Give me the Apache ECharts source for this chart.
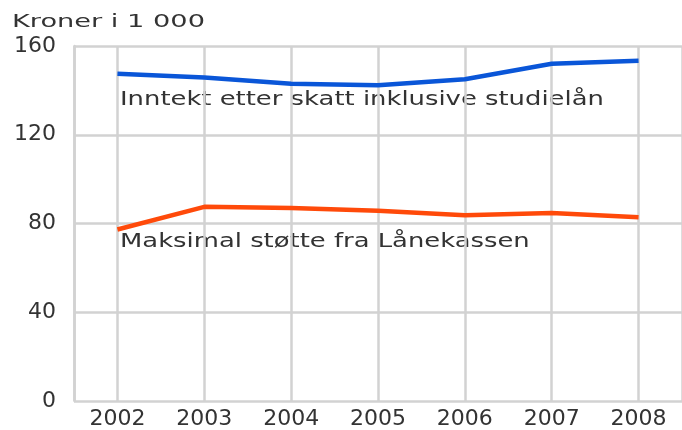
<!DOCTYPE html>
<html><head><meta charset="utf-8">
<script src="https://cdn.jsdelivr.net/npm/echarts@6/dist/echarts.min.js"></script>
<style>html,body{margin:0;padding:0;background:#fff}#c{width:682px;height:430px}</style>
</head><body><div id="c"></div>
<script>
const years = [2002, 2003, 2004, 2005, 2006, 2007, 2008];
const inntekt = [147.5, 145.8, 143, 142.3, 145, 152, 153.3];
const stotte = [77.3, 87.5, 87, 85.8, 83.7, 84.7, 82.8];
const yTicks = [0, 40, 80, 120, 160];
const unitLabel = 'Kroner i 1 000';
const name1 = 'Inntekt etter skatt inklusive studielån';
const name2 = 'Maksimal støtte fra Lånekassen';

const font = 'DejaVu Sans';
const chart = echarts.init(document.getElementById('c'));
chart.setOption({
  animation: false,
  grid: {left: 74, right: -5, top: 46, bottom: 26, containLabel: false},
  xAxis: {
    type: 'value', min: 2001.5, max: 2008.5, splitNumber: 7,
    axisLine: {show: false}, axisTick: {show: false},
    axisLabel: {color: '#333', fontFamily: font, fontSize: 22, margin: 7,
      showMinLabel: false, showMaxLabel: false,
      formatter: v => (years.indexOf(v) >= 0 ? String(v) : '')},
    splitLine: {show: true, lineStyle: {color: '#d2d2d2', width: 2.5}}
  },
  yAxis: {
    type: 'value', min: yTicks[0], max: yTicks[yTicks.length - 1], interval: 40,
    axisLine: {show: true, lineStyle: {color: '#d2d2d2', width: 2.5}}, axisTick: {show: false},
    axisLabel: {color: '#333', fontFamily: font, fontSize: 22, margin: 18},
    splitLine: {show: true, lineStyle: {color: '#d2d2d2', width: 2.5}}
  },
  graphic: [
    {type: 'group', x: 12, y: 14, scaleX: 1.6, children: [
      {type: 'text', style: {text: unitLabel, fill: '#333', font: '17px ' + font, verticalAlign: 'top'}}]},
    {type: 'group', x: 120, y: 91, scaleX: 1.36, children: [
      {type: 'text', style: {text: name1, fill: '#333', font: '19px ' + font, verticalAlign: 'top'}}]},
    {type: 'group', x: 120, y: 233, scaleX: 1.36, children: [
      {type: 'text', style: {text: name2, fill: '#333', font: '19px ' + font, verticalAlign: 'top'}}]}
  ],
  series: [
    {type: 'line', name: name1, data: years.map((y, i) => [y, inntekt[i]]), showSymbol: false,
      lineStyle: {color: '#0a56d8', width: 4.5}},
    {type: 'line', name: name2, data: years.map((y, i) => [y, stotte[i]]), showSymbol: false,
      lineStyle: {color: '#ff4a0a', width: 4.5}}
  ]
});
</script></body></html>
